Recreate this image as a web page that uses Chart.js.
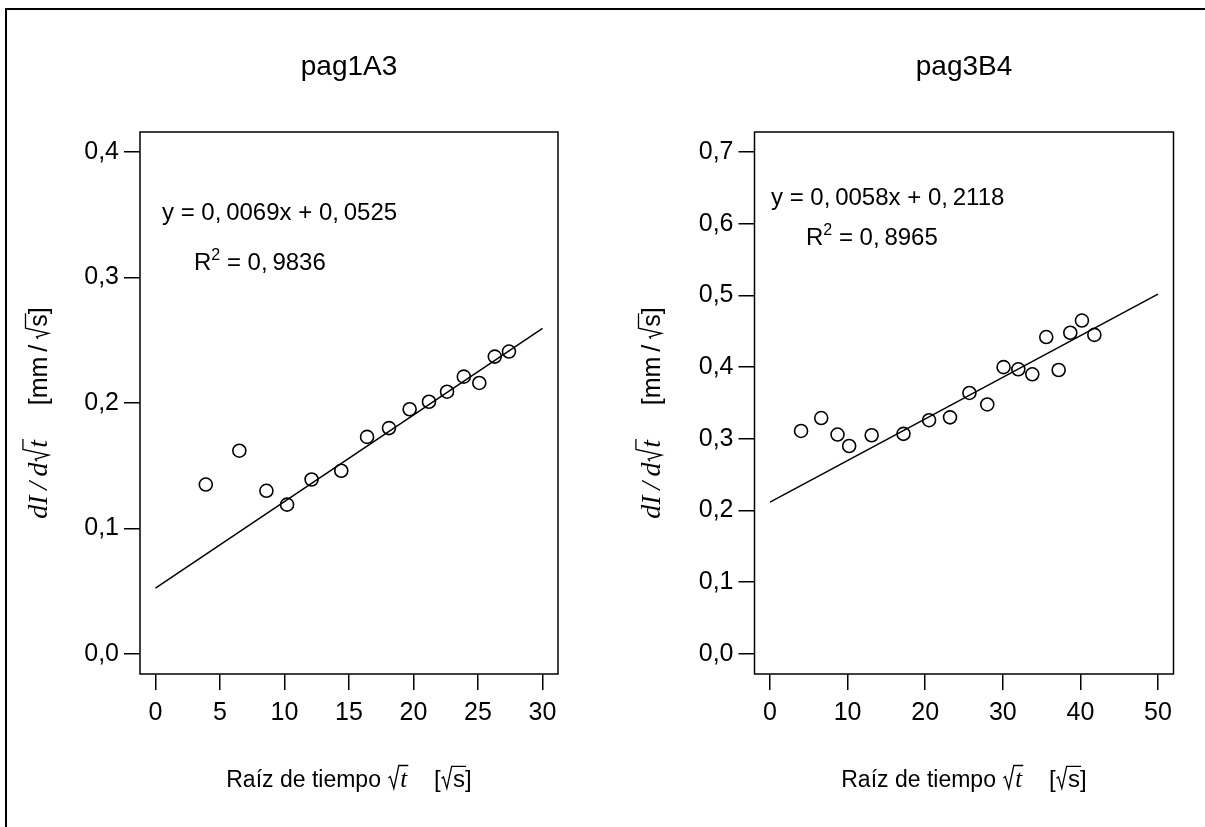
<!DOCTYPE html>
<html>
<head>
<meta charset="utf-8">
<script src="https://cdn.jsdelivr.net/npm/chart.js@4"></script>
<style>
  body { margin: 0; background: #fff; }
  #page { position: relative; width: 1205px; height: 827px; overflow: hidden; background: #fff; }
  #frame { position: absolute; left: 5px; top: 8px; width: 1300px; height: 900px; border-top: 2px solid #000; border-left: 2px solid #000; }
  canvas { position: absolute; top: 0; }
  #left { left: 0; }
  #right { left: 600px; }
</style>
</head>
<body>
<div id="page">
  <div id="frame"></div>
  <canvas id="left" width="600" height="827"></canvas>
  <canvas id="right" width="605" height="827"></canvas>
</div>
<script>
// pag1A3 data
const titleLeft = "pag1A3";
const xLeft = [3.9, 6.5, 8.6, 10.2, 12.1, 14.4, 16.4, 18.1, 19.7, 21.2, 22.6, 23.9, 25.1, 26.3, 27.4];
const yLeft = [0.135, 0.162, 0.130, 0.119, 0.139, 0.146, 0.173, 0.180, 0.195, 0.201, 0.209, 0.221, 0.216, 0.237, 0.241];
const fitLeft = [0.0069, 0.0525]; // slope, intercept
const r2Left = 0.9836;
const xLimLeft = [0, 30];
const yLimLeft = [0, 0.4];
const xTicksLeft = [0, 5, 10, 15, 20, 25, 30];
const yTicksLeft = [0, 0.1, 0.2, 0.3, 0.4];

// pag3B4 data
const titleRight = "pag3B4";
const xRight = [4.0, 6.6, 8.7, 10.2, 13.1, 17.2, 20.5, 23.2, 25.7, 28.0, 30.1, 32.0, 33.8, 35.6, 37.2, 38.7, 40.2, 41.8];
const yRight = [0.311, 0.329, 0.306, 0.290, 0.305, 0.307, 0.326, 0.330, 0.364, 0.348, 0.400, 0.397, 0.390, 0.442, 0.396, 0.448, 0.465, 0.445];
const fitRight = [0.0058, 0.2118];
const r2Right = 0.8965;
const xLimRight = [0, 50];
const yLimRight = [0, 0.7];
const xTicksRight = [0, 10, 20, 30, 40, 50];
const yTicksRight = [0, 0.1, 0.2, 0.3, 0.4, 0.5, 0.6, 0.7];

const SANS = '"Liberation Sans", Arial, sans-serif';
const SERIF = '"Liberation Serif", "Times New Roman", serif';

function sans(text, size, rad) { return { text, size, rad, font: size + "px " + SANS }; }
function math(text, size, rad) { return { text, size, rad, font: "italic " + size + "px " + SERIF }; }

// draws a radical sign whose bar covers w pixels
function drawRadical(ctx, x, y, s, w) {
  ctx.save();
  ctx.lineWidth = 1.3;
  ctx.strokeStyle = "#000";
  ctx.beginPath();
  ctx.moveTo(x + 0.04 * s, y - 0.36 * s);
  ctx.lineTo(x + 0.12 * s, y - 0.42 * s);
  ctx.lineTo(x + 0.26 * s, y + 0.06 * s);
  ctx.lineTo(x + 0.46 * s, y - 0.86 * s);
  ctx.lineTo(x + 0.52 * s + w, y - 0.86 * s);
  ctx.stroke();
  ctx.restore();
}

function drawRuns(ctx, runs, x, y, align) {
  let total = 0;
  runs.forEach(r => {
    ctx.font = r.font;
    r.tw = ctx.measureText(r.text).width;
    r.w = r.tw + (r.rad ? 0.52 * r.size : 0);
    total += r.w;
  });
  let cx = align === "center" ? x - total / 2 : x;
  ctx.textAlign = "left";
  ctx.textBaseline = "alphabetic";
  ctx.fillStyle = "#000";
  runs.forEach(r => {
    ctx.font = r.font;
    let tx = cx;
    if (r.rad) {
      drawRadical(ctx, cx, y, r.size, r.tw + 1);
      tx += 0.52 * r.size;
    }
    ctx.fillText(r.text, tx, y - (r.rise || 0));
    cx += r.w;
  });
}

const fmt = (v, d) => v.toFixed(d).replace(".", ",\u2009");

function makePanel(id, p) {
  const xr = p.xLim[1] - p.xLim[0];
  const yr = p.yLim[1] - p.yLim[0];
  const pts = p.xs.map((x, i) => ({ x: x, y: p.ys[i] }));
  const fit = p.xLim.map(x => ({ x: x, y: p.fit[1] + p.fit[0] * x }));

  const decor = {
    id: "decor",
    afterDraw(chart) {
      const ctx = chart.ctx;
      const a = chart.chartArea;
      const mid = (a.left + a.right) / 2;
      ctx.save();
      ctx.lineWidth = 1.5;
      ctx.strokeStyle = "#000";
      ctx.strokeRect(a.left, a.top, a.right - a.left, a.bottom - a.top);

      // title
      ctx.fillStyle = "#000";
      ctx.font = "28px " + SANS;
      ctx.textAlign = "center";
      ctx.textBaseline = "alphabetic";
      ctx.fillText(p.title, mid, 75);

      // equation
      const eq = "y\u2009=\u2009" + fmt(p.fit[0], 4) + "x\u2009+\u2009" + fmt(p.fit[1], 4);
      drawRuns(ctx, [sans(eq.replace(/\u2009=\u2009/, " = ").replace(/x\u2009\+\u2009/, "x + "), 24)], p.eqX, p.eqY, "left");
      const sup = sans("2", 16);
      sup.rise = 10;
      drawRuns(ctx, [sans("R", 24), sup, sans(" = " + fmt(p.r2, 4), 24)], p.r2X, p.r2Y, "left");

      // x title
      drawRuns(ctx, [
        sans("Raíz de tiempo ", 23),
        math("t", 25, true),
        sans("    [", 24),
        sans("s", 24, true),
        sans("]", 24)
      ], mid, 787, "center");

      // y title
      ctx.translate(p.yTitleX, (a.top + a.bottom) / 2 + 10);
      ctx.rotate(-Math.PI / 2);
      drawRuns(ctx, [
        math("dI\u2009/\u2009d", 28),
        math("t", 28, true),
        sans("     [mm\u2009/\u2009", 25),
        sans("s", 25, true),
        sans("]", 25)
      ], 0, 9, "center");
      ctx.restore();
    }
  };

  const axisCommon = {
    type: "linear",
    border: { display: false },
    grid: { drawOnChartArea: false, drawTicks: true, tickLength: 16, color: "#000", lineWidth: 1.5 },
  };

  new Chart(document.getElementById(id), {
    type: "scatter",
    data: {
      datasets: [
        {
          data: pts,
          pointRadius: 6.5,
          pointBorderWidth: 1.6,
          pointBorderColor: "#000",
          pointBackgroundColor: "rgba(0,0,0,0)",
          showLine: false
        },
        {
          data: fit,
          showLine: true,
          borderColor: "#000",
          borderWidth: 1.5,
          pointRadius: 0
        }
      ]
    },
    options: {
      responsive: false,
      animation: false,
      devicePixelRatio: 1,
      layout: { padding: { left: 0, top: 132, right: p.padRight, bottom: 0 } },
      plugins: { legend: { display: false }, tooltip: { enabled: false } },
      scales: {
        x: Object.assign({}, axisCommon, {
          min: p.xLim[0] - 0.04 * xr,
          max: p.xLim[1] + 0.04 * xr,
          afterBuildTicks: s => { s.ticks = p.xTicks.map(v => ({ value: v })); },
          afterFit: s => { s.height = 827 - 674; },
          ticks: {
            autoSkip: false, maxRotation: 0, padding: 8, color: "#000",
            font: { family: SANS, size: 25 },
            callback: v => String(v)
          }
        }),
        y: Object.assign({}, axisCommon, {
          min: p.yLim[0] - 0.04 * yr,
          max: p.yLim[1] + 0.04 * yr,
          afterBuildTicks: s => { s.ticks = p.yTicks.map(v => ({ value: v })); },
          afterFit: s => { s.width = p.yWidth; },
          ticks: {
            autoSkip: false, padding: 5, color: "#000",
            font: { family: SANS, size: 25 },
            callback: v => v.toFixed(1).replace(".", ",")
          }
        })
      }
    },
    plugins: [decor]
  });
}

makePanel("left", {
  title: titleLeft, xs: xLeft, ys: yLeft, fit: fitLeft, r2: r2Left,
  xLim: xLimLeft, yLim: yLimLeft, xTicks: xTicksLeft, yTicks: yTicksLeft,
  yWidth: 140, padRight: 600 - 558,
  eqX: 162, eqY: 220, r2X: 194, r2Y: 270, yTitleX: 38
});

makePanel("right", {
  title: titleRight, xs: xRight, ys: yRight, fit: fitRight, r2: r2Right,
  xLim: xLimRight, yLim: yLimRight, xTicks: xTicksRight, yTicks: yTicksRight,
  yWidth: 154.5, padRight: 605 - 573.5,
  eqX: 171, eqY: 205, r2X: 206, r2Y: 245, yTitleX: 51
});
</script>
</body>
</html>
